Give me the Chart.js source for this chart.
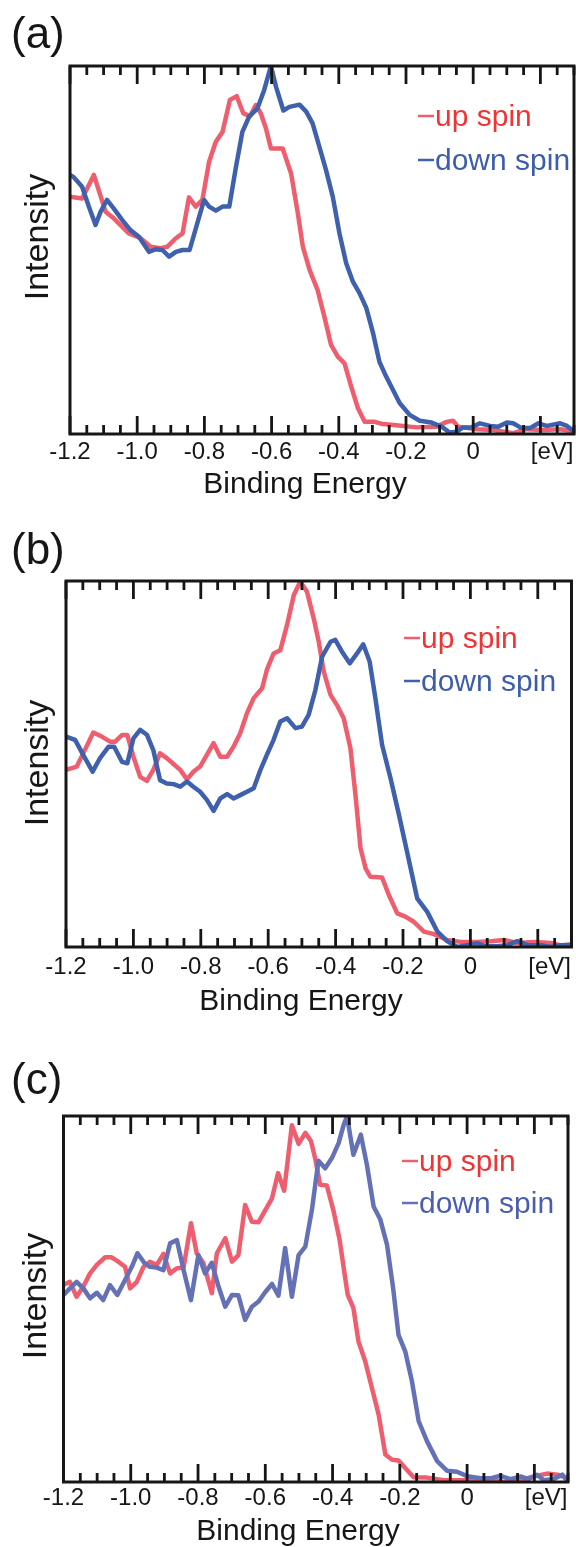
<!DOCTYPE html>
<html>
<head>
<meta charset="utf-8">
<script src="https://cdn.jsdelivr.net/npm/chart.js@4.4.1/dist/chart.umd.min.js"></script>
<style>
  html, body { margin: 0; padding: 0; background: #fff; }
  body { width: 576px; height: 1547px; position: relative; overflow: hidden; }
  canvas { position: absolute; left: 0; }
</style>
</head>
<body>
<canvas id="chartA" width="576" height="510" style="top:0px"></canvas>
<canvas id="chartB" width="576" height="520" style="top:515px"></canvas>
<canvas id="chartC" width="576" height="507" style="top:1040px"></canvas>
<script>
// x axis (binding energy, eV)
const xMin = -1.2;
const xMax = 0.3;
const xTickValues = [-1.2, -1.0, -0.8, -0.6, -0.4, -0.2, 0];
const unitTickValue = 0.235;   // where "[eV]" sits
const unitLabel = '[eV]';
const minorStep = 0.05;
const majorEvery = 4;           // every 4th minor tick is a major one (0.2 eV)

const seriesLabels = ['up spin', 'down spin'];

// (a)
const aUpEnergy = [-1.2, -1.164, -1.129, -1.094, -1.07, -1.025, -0.99, -0.96, -0.93, -0.91, -0.885, -0.865, -0.846, -0.826, -0.806, -0.786, -0.766, -0.746, -0.724, -0.704, -0.684, -0.664, -0.647, -0.632, -0.617, -0.602, -0.567, -0.542, -0.522, -0.507, -0.487, -0.463, -0.443, -0.423, -0.403, -0.383, -0.363, -0.343, -0.323, -0.293, -0.269, -0.229, -0.169, -0.109, -0.079, -0.06, -0.045, 0.01, 0.06, 0.119, 0.159, 0.209, 0.259, 0.3];
const aUpIntensity = [64.5, 64.0, 70.4, 60.4, 58.6, 54.5, 53.2, 50.9, 50.5, 50.9, 53.2, 54.5, 64.3, 61.8, 63.6, 74.0, 79.4, 82.1, 90.8, 91.8, 87.1, 86.4, 89.4, 87.1, 83.1, 77.6, 77.6, 70.8, 60.0, 50.9, 44.6, 39.1, 31.9, 24.2, 21.0, 19.2, 12.9, 7.0, 3.3, 3.3, 2.7, 2.4, 1.8, 2.0, 3.3, 3.6, 2.0, 1.3, 1.1, 0.2, 1.3, 1.1, 1.3, 0.7];
const aDownEnergy = [-1.2, -1.189, -1.164, -1.144, -1.124, -1.109, -1.09, -1.07, -1.045, -1.02, -0.995, -0.965, -0.945, -0.925, -0.905, -0.885, -0.865, -0.844, -0.821, -0.801, -0.786, -0.766, -0.746, -0.726, -0.706, -0.687, -0.667, -0.642, -0.622, -0.602, -0.587, -0.565, -0.547, -0.517, -0.497, -0.478, -0.458, -0.438, -0.418, -0.398, -0.378, -0.358, -0.338, -0.318, -0.298, -0.279, -0.259, -0.239, -0.219, -0.189, -0.159, -0.124, -0.094, -0.07, -0.05, -0.03, -0.005, 0.02, 0.05, 0.075, 0.1, 0.119, 0.144, 0.169, 0.194, 0.219, 0.259, 0.279, 0.3];
const aDownIntensity = [70.4, 69.8, 67.2, 61.8, 56.8, 60.4, 63.6, 61.3, 58.2, 55.4, 53.6, 49.5, 50.2, 50.0, 48.2, 49.5, 50.0, 50.0, 57.3, 63.6, 61.8, 60.7, 61.8, 61.8, 72.6, 82.1, 86.2, 88.5, 93.5, 100, 94.4, 87.9, 88.9, 89.5, 87.6, 84.4, 78.1, 71.7, 64.5, 54.5, 46.4, 41.4, 38.2, 34.2, 27.4, 19.6, 15.6, 12.0, 8.4, 5.2, 3.6, 3.1, 2.0, 0.4, 0.6, 1.8, 1.8, 2.9, 2.2, 2.0, 3.1, 2.9, 1.6, 1.6, 2.9, 2.2, 2.9, 2.2, 0.7];

// (b)
const bUpEnergy = [-1.2, -1.168, -1.149, -1.119, -1.094, -1.069, -1.054, -1.034, -1.018, -1.0, -0.98, -0.96, -0.941, -0.921, -0.901, -0.881, -0.861, -0.841, -0.822, -0.802, -0.782, -0.762, -0.742, -0.722, -0.703, -0.683, -0.663, -0.643, -0.618, -0.604, -0.584, -0.564, -0.544, -0.524, -0.505, -0.485, -0.465, -0.45, -0.435, -0.415, -0.396, -0.376, -0.356, -0.341, -0.326, -0.311, -0.297, -0.262, -0.242, -0.217, -0.193, -0.168, -0.138, -0.108, -0.069, -0.029, 0.021, 0.06, 0.1, 0.139, 0.189, 0.238, 0.268, 0.3];
const bUpIntensity = [48.4, 49.3, 52.9, 58.6, 57.5, 56.1, 56.1, 57.9, 57.9, 52.0, 46.5, 45.4, 48.4, 52.9, 51.6, 50.0, 48.4, 45.8, 47.9, 49.3, 52.5, 55.7, 52.0, 52.0, 54.7, 58.4, 63.9, 68.0, 70.7, 75.7, 80.2, 81.1, 88.0, 96.2, 99.8, 97.1, 89.8, 83.4, 75.2, 68.9, 66.1, 62.5, 54.3, 41.5, 27.0, 21.5, 19.2, 19.0, 14.2, 9.2, 8.3, 6.9, 4.2, 3.5, 1.9, 1.4, 1.4, 1.6, 1.9, 1.1, 1.4, 1.1, 0.4, 0.6];
const bDownEnergy = [-1.2, -1.173, -1.149, -1.121, -1.099, -1.074, -1.057, -1.034, -1.018, -1.0, -0.98, -0.96, -0.941, -0.921, -0.901, -0.881, -0.861, -0.841, -0.822, -0.802, -0.782, -0.762, -0.742, -0.722, -0.703, -0.683, -0.663, -0.643, -0.623, -0.604, -0.584, -0.564, -0.544, -0.519, -0.5, -0.48, -0.46, -0.44, -0.415, -0.401, -0.381, -0.358, -0.338, -0.318, -0.299, -0.282, -0.262, -0.237, -0.212, -0.188, -0.158, -0.128, -0.098, -0.069, -0.039, -0.009, 0.021, 0.045, 0.08, 0.11, 0.139, 0.169, 0.209, 0.238, 0.268, 0.3];
const bDownIntensity = [57.5, 56.6, 52.5, 47.9, 51.6, 54.7, 54.7, 50.6, 50.2, 57.0, 59.3, 58.0, 53.8, 45.6, 44.7, 44.5, 43.8, 45.2, 43.8, 42.4, 40.2, 37.2, 40.6, 41.8, 40.6, 41.5, 42.4, 43.4, 48.4, 52.5, 56.6, 61.6, 62.5, 59.8, 60.2, 63.4, 70.2, 79.3, 83.4, 83.9, 80.7, 77.5, 80.0, 82.7, 78.0, 68.0, 55.2, 46.1, 36.1, 26.0, 13.3, 9.6, 4.2, 1.6, 0, 0.5, 1.0, 0.2, 0.2, 0.5, 1.6, 0.5, 0.5, 0, 0.5, 0.6];

// (c)
const cUpEnergy = [-1.2, -1.181, -1.161, -1.141, -1.121, -1.101, -1.076, -1.057, -1.037, -1.017, -1.002, -0.982, -0.962, -0.943, -0.923, -0.903, -0.883, -0.863, -0.843, -0.821, -0.804, -0.784, -0.759, -0.744, -0.719, -0.699, -0.68, -0.66, -0.64, -0.62, -0.6, -0.58, -0.562, -0.544, -0.521, -0.501, -0.481, -0.464, -0.451, -0.437, -0.417, -0.397, -0.379, -0.367, -0.355, -0.338, -0.323, -0.303, -0.283, -0.263, -0.243, -0.223, -0.204, -0.184, -0.159, -0.119, -0.07, -0.01, 0.049, 0.109, 0.168, 0.208, 0.238, 0.268, 0.3];
const cUpIntensity = [53.8, 54.7, 50.6, 53.4, 57.0, 59.3, 61.4, 61.4, 60.2, 58.8, 52.9, 54.7, 58.8, 60.2, 59.3, 62.3, 57.0, 58.4, 58.6, 70.7, 62.5, 59.8, 51.6, 62.5, 66.6, 60.2, 62.0, 75.7, 71.1, 71.0, 74.3, 77.5, 84.4, 79.6, 97.5, 92.4, 95.4, 93.1, 88.1, 81.2, 81.0, 74.0, 66.2, 58.5, 51.2, 47.5, 38.4, 33.0, 25.7, 18.4, 7.5, 6.1, 5.9, 3.8, 1.3, 1.2, 0.5, 0.5, 1.0, 0, 0.8, 1.7, 2.3, 2.0, 1.0];
const cDownEnergy = [-1.2, -1.181, -1.161, -1.141, -1.121, -1.101, -1.082, -1.062, -1.04, -1.017, -0.997, -0.98, -0.96, -0.943, -0.923, -0.903, -0.883, -0.863, -0.843, -0.821, -0.799, -0.779, -0.759, -0.739, -0.719, -0.699, -0.68, -0.66, -0.64, -0.62, -0.6, -0.58, -0.561, -0.541, -0.521, -0.501, -0.481, -0.461, -0.442, -0.422, -0.402, -0.382, -0.367, -0.357, -0.338, -0.316, -0.298, -0.278, -0.258, -0.238, -0.22, -0.204, -0.184, -0.164, -0.144, -0.119, -0.089, -0.06, -0.03, 0.0, 0.04, 0.069, 0.099, 0.129, 0.159, 0.183, 0.208, 0.228, 0.258, 0.283, 0.3];
const cDownIntensity = [51.1, 52.9, 54.7, 52.9, 50.2, 51.7, 49.7, 53.8, 51.1, 55.2, 58.8, 62.5, 59.9, 58.8, 58.6, 57.9, 65.2, 66.1, 57.9, 49.7, 62.0, 57.0, 59.9, 53.4, 47.9, 51.1, 51.0, 44.3, 47.9, 49.3, 51.9, 54.1, 50.9, 63.9, 50.6, 62.0, 64.3, 74.6, 87.8, 85.7, 88.5, 92.6, 97.6, 99.9, 89.4, 94.9, 86.7, 75.3, 71.7, 64.8, 53.0, 40.2, 35.7, 27.5, 16.6, 11.1, 5.7, 3.1, 2.8, 1.6, 1.0, 1.0, 1.7, 0.8, 1.5, 0.8, 2.0, 0.5, 0.8, 2.0, 0];

const FONT = "'Liberation Sans', Arial, sans-serif";
const INK = '#161616';

function toPoints(energy, intensity) {
    return energy.map((e, i) => ({ x: e, y: intensity[i] }));
}

// Rahmen, nach innen zeigende Ticks, Achsentitel, Panel-Buchstabe und Legende
const panelDecor = {
    id: 'panelDecor',
    afterDraw(chart, args, o) {
        const ctx = chart.ctx;
        const { left, right, top, bottom } = chart.chartArea;
        const xs = chart.scales.x;
        ctx.save();

        // ticks (inside, top and bottom)
        ctx.strokeStyle = INK;
        ctx.lineWidth = 2.8;
        const nSteps = Math.round((xMax - xMin) / minorStep);
        for (let k = 0; k <= nSteps; k++) {
            const px = xs.getPixelForValue(xMin + k * minorStep);
            const len = k % majorEvery === 0 ? 18 : 9;
            ctx.beginPath();
            ctx.moveTo(px, top); ctx.lineTo(px, top + len);
            ctx.moveTo(px, bottom); ctx.lineTo(px, bottom - len);
            ctx.stroke();
        }

        // frame
        ctx.lineWidth = 3;
        ctx.strokeRect(left, top, right - left, bottom - top);

        ctx.fillStyle = INK;
        ctx.textBaseline = 'alphabetic';

        // panel letter
        ctx.font = '44px ' + FONT;
        ctx.textAlign = 'left';
        ctx.fillText(o.panel, o.panelX, o.panelY);

        // x title
        ctx.font = '30px ' + FONT;
        ctx.textAlign = 'center';
        ctx.fillText(o.xTitle, o.xTitleX, o.xTitleY);

        // y title
        ctx.save();
        ctx.font = '34px ' + FONT;
        ctx.translate(o.yTitleX, o.yTitleY);
        ctx.rotate(-Math.PI / 2);
        ctx.fillText(o.yTitle, 0, 0);
        ctx.restore();

        // legend: short dash in line colour + label
        ctx.font = '30px ' + FONT;
        ctx.textAlign = 'left';
        chart.data.datasets.forEach((ds, i) => {
            const y = o.legendY[i];
            ctx.strokeStyle = ds.borderColor;
            ctx.lineWidth = 2.5;
            ctx.beginPath();
            ctx.moveTo(o.legendX, y - 10);
            ctx.lineTo(o.legendX + 16, y - 10);
            ctx.stroke();
            ctx.fillStyle = ds.textColor;
            ctx.fillText(ds.label, o.legendX + 17, y);
        });

        ctx.restore();
    }
};

function createChart(canvasId, upE, upI, downE, downI, lay) {
    const ctx = document.getElementById(canvasId).getContext('2d');
    return new Chart(ctx, {
        type: 'line',
        data: {
            datasets: [
                {
                    label: seriesLabels[0],
                    data: toPoints(upE, upI),
                    borderColor: '#ef5e6e',
                    textColor: '#f03434',
                    borderWidth: 4.5,
                    pointRadius: 0,
                    tension: 0,
                    fill: false,
                    borderJoinStyle: 'round',
                    order: 1
                },
                {
                    label: seriesLabels[1],
                    data: toPoints(downE, downI),
                    borderColor: lay.downColor,
                    textColor: lay.downText,
                    borderWidth: 4.5,
                    pointRadius: 0,
                    tension: 0,
                    fill: false,
                    borderJoinStyle: 'round',
                    order: 0
                }
            ]
        },
        options: {
            responsive: false,
            animation: false,
            events: [],
            layout: { padding: { left: lay.left, right: lay.right, top: lay.top, bottom: 0 } },
            scales: {
                x: {
                    type: 'linear',
                    min: xMin,
                    max: xMax,
                    grid: { display: false, drawTicks: false },
                    border: { display: false },
                    afterBuildTicks: (scale) => {
                        scale.ticks = xTickValues.concat([unitTickValue]).map(v => ({ value: v }));
                    },
                    afterFit: (scale) => {
                        scale.height = lay.axisH;
                        scale.paddingLeft = 0;
                        scale.paddingRight = 0;
                    },
                    ticks: {
                        autoSkip: false,
                        maxRotation: 0,
                        padding: lay.tickPad,
                        color: INK,
                        font: { family: FONT, size: 24 },
                        callback: (v) => v === unitTickValue ? unitLabel : (v === 0 ? '0' : v.toFixed(1))
                    }
                },
                y: {
                    display: false,
                    min: 0,
                    max: 100
                }
            },
            plugins: {
                legend: { display: false },
                tooltip: { enabled: false },
                panelDecor: {
                    panel: lay.panel, panelX: 11, panelY: lay.panelY,
                    xTitle: 'Binding Energy', xTitleX: lay.xTitleX, xTitleY: lay.xTitleY,
                    yTitle: 'Intensity', yTitleX: lay.yTitleX, yTitleY: lay.yTitleY,
                    legendX: lay.legendX, legendY: lay.legendY
                }
            }
        },
        plugins: [panelDecor]
    });
}

createChart('chartA', aUpEnergy, aUpIntensity, aDownEnergy, aDownIntensity, {
    panel: '(a)', panelY: 48, left: 70, right: 2, top: 66, axisH: 76, tickPad: 3.5,
    xTitleX: 305, xTitleY: 493, yTitleX: 48, yTitleY: 237,
    legendX: 418, legendY: [126, 170], downColor: '#3e60ad', downText: '#3d5dab'
});
createChart('chartB', bUpEnergy, bUpIntensity, bDownEnergy, bDownIntensity, {
    panel: '(b)', panelY: 49, left: 66, right: 4.5, top: 66, axisH: 88, tickPad: 5.5,
    xTitleX: 301, xTitleY: 495, yTitleX: 48, yTitleY: 248,
    legendX: 404, legendY: [133, 176], downColor: '#3e60ad', downText: '#3d5dab'
});
createChart('chartC', cUpEnergy, cUpIntensity, cDownEnergy, cDownIntensity, {
    panel: '(c)', panelY: 54, left: 63.5, right: 8, top: 76, axisH: 65, tickPad: 2,
    xTitleX: 298, xTitleY: 500, yTitleX: 46, yTitleY: 256,
    legendX: 402, legendY: [131, 173], downColor: '#6571b6', downText: '#4b5eae'
});
</script>
</body>
</html>
